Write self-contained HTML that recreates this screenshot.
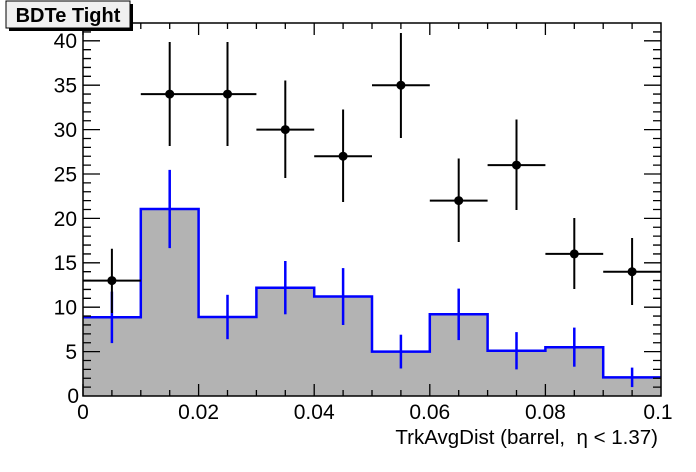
<!DOCTYPE html>
<html><head><meta charset="utf-8"><style>
html,body{margin:0;padding:0;background:#fff;}
svg{display:block;font-family:"Liberation Sans",sans-serif;}
</style></head><body>
<svg width="696" height="472" viewBox="0 0 696 472" xmlns="http://www.w3.org/2000/svg">
<rect width="696" height="472" fill="#fff"/>
<path d="M83,396 L83,317.3 H140.8 V209 H198.6 V317 H256.4 V287.7 H314.2 V296.5 H372 V351.6 H429.8 V314.3 H487.6 V350.7 H545.4 V347.2 H603.2 V377.4 H661 V396 Z" fill="#b3b3b3"/>
<path d="M83,317.3 H140.8 V209 H198.6 V317 H256.4 V287.7 H314.2 V296.5 H372 V351.6 H429.8 V314.3 H487.6 V350.7 H545.4 V347.2 H603.2 V377.4 H661" fill="none" stroke="#0000ff" stroke-width="2.5"/>
<g stroke="#0000ff" stroke-width="2.5">
<line x1="111.9" x2="111.9" y1="291.6" y2="343.1"/>
<line x1="169.7" x2="169.7" y1="169.9" y2="248.1"/>
<line x1="227.5" x2="227.5" y1="294.8" y2="339.2"/>
<line x1="285.3" x2="285.3" y1="261" y2="314.3"/>
<line x1="343.1" x2="343.1" y1="268.1" y2="325"/>
<line x1="400.9" x2="400.9" y1="334.7" y2="368.5"/>
<line x1="458.7" x2="458.7" y1="288.6" y2="340.1"/>
<line x1="516.5" x2="516.5" y1="332.1" y2="369.4"/>
<line x1="574.3" x2="574.3" y1="327.6" y2="366.7"/>
<line x1="632.1" x2="632.1" y1="367.6" y2="387.1"/>
</g>
<rect x="83" y="23" width="578" height="373" fill="none" stroke="#000" stroke-width="1.5"/>
<path stroke="#000" stroke-width="1.3" fill="none" d="
M83,396v-12 M111.9,396v-6 M140.8,396v-6 M169.7,396v-6 M198.6,396v-12 M227.5,396v-6 M256.4,396v-6 M285.3,396v-6 M314.2,396v-12 M343.1,396v-6 M372,396v-6 M400.9,396v-6 M429.8,396v-12 M458.7,396v-6 M487.6,396v-6 M516.5,396v-6 M545.4,396v-12 M574.3,396v-6 M603.2,396v-6 M632.1,396v-6
M83,23v12 M111.9,23v6 M140.8,23v6 M169.7,23v6 M198.6,23v12 M227.5,23v6 M256.4,23v6 M285.3,23v6 M314.2,23v12 M343.1,23v6 M372,23v6 M400.9,23v6 M429.8,23v12 M458.7,23v6 M487.6,23v6 M516.5,23v6 M545.4,23v12 M574.3,23v6 M603.2,23v6 M632.1,23v6
M83,387.12h8 M83,378.24h8 M83,369.36h8 M83,360.48h8 M83,351.6h17 M83,342.72h8 M83,333.84h8 M83,324.96h8 M83,316.08h8 M83,307.2h17 M83,298.32h8 M83,289.44h8 M83,280.56h8 M83,271.68h8 M83,262.8h17 M83,253.92h8 M83,245.04h8 M83,236.16h8 M83,227.28h8 M83,218.4h17 M83,209.52h8 M83,200.64h8 M83,191.76h8 M83,182.88h8 M83,174h17 M83,165.12h8 M83,156.24h8 M83,147.36h8 M83,138.48h8 M83,129.6h17 M83,120.72h8 M83,111.84h8 M83,102.96h8 M83,94.08h8 M83,85.2h17 M83,76.32h8 M83,67.44h8 M83,58.56h8 M83,49.68h8 M83,40.8h17 M83,31.92h8
M661,387.12h-8 M661,378.24h-8 M661,369.36h-8 M661,360.48h-8 M661,351.6h-17 M661,342.72h-8 M661,333.84h-8 M661,324.96h-8 M661,316.08h-8 M661,307.2h-17 M661,298.32h-8 M661,289.44h-8 M661,280.56h-8 M661,271.68h-8 M661,262.8h-17 M661,253.92h-8 M661,245.04h-8 M661,236.16h-8 M661,227.28h-8 M661,218.4h-17 M661,209.52h-8 M661,200.64h-8 M661,191.76h-8 M661,182.88h-8 M661,174h-17 M661,165.12h-8 M661,156.24h-8 M661,147.36h-8 M661,138.48h-8 M661,129.6h-17 M661,120.72h-8 M661,111.84h-8 M661,102.96h-8 M661,94.08h-8 M661,85.2h-17 M661,76.32h-8 M661,67.44h-8 M661,58.56h-8 M661,49.68h-8 M661,40.8h-17 M661,31.92h-8"/>
<g font-size="21" text-anchor="middle">
<text x="83" y="419">0</text>
<text x="198.6" y="419">0.02</text>
<text x="314.2" y="419">0.04</text>
<text x="429.8" y="419">0.06</text>
<text x="545.4" y="419">0.08</text>
<text x="658" y="419">0.1</text>
</g>
<g font-size="21" text-anchor="end">
<text x="79" y="403">0</text>
<text x="77" y="359">5</text>
<text x="77" y="314.6">10</text>
<text x="77" y="270.2">15</text>
<text x="77" y="225.8">20</text>
<text x="77" y="181.4">25</text>
<text x="77" y="137">30</text>
<text x="77" y="92.6">35</text>
<text x="77" y="48.2">40</text>
</g>
<g stroke="#000" stroke-width="2">
<path d="M83,280.6H140.8 M111.9,248.8V313
M140.8,94.1H198.6 M169.7,42V146
M198.6,94.1H256.4 M227.5,42V146
M256.4,129.6H314.2 M285.3,80.5V178
M314.2,156.2H372 M343.1,109.5V202
M372,85.2H429.8 M400.9,33V138
M429.8,200.6H487.6 M458.7,158.5V242
M487.6,165.1H545.4 M516.5,119.5V210
M545.4,253.9H603.2 M574.3,218V289
M603.2,271.7H661 M632.1,238V305"/>
</g>
<g fill="#000">
<circle cx="111.9" cy="280.6" r="4.5"/><circle cx="169.7" cy="94.1" r="4.5"/><circle cx="227.5" cy="94.1" r="4.5"/><circle cx="285.3" cy="129.6" r="4.5"/><circle cx="343.1" cy="156.2" r="4.5"/><circle cx="400.9" cy="85.2" r="4.5"/><circle cx="458.7" cy="200.6" r="4.5"/><circle cx="516.5" cy="165.1" r="4.5"/><circle cx="574.3" cy="253.9" r="4.5"/><circle cx="632.1" cy="271.7" r="4.5"/>
</g>
<rect x="9" y="4" width="124" height="27" fill="#000"/>
<rect x="6" y="1" width="124" height="27" fill="#f0f0f0" stroke="#000" stroke-width="1"/>
<text x="68" y="22" font-size="20" font-weight="bold" text-anchor="middle">BDTe Tight</text>
<text x="658" y="444" font-size="20.5" text-anchor="end" xml:space="preserve">TrkAvgDist (barrel,  η &lt; 1.37)</text>
</svg>
</body></html>
